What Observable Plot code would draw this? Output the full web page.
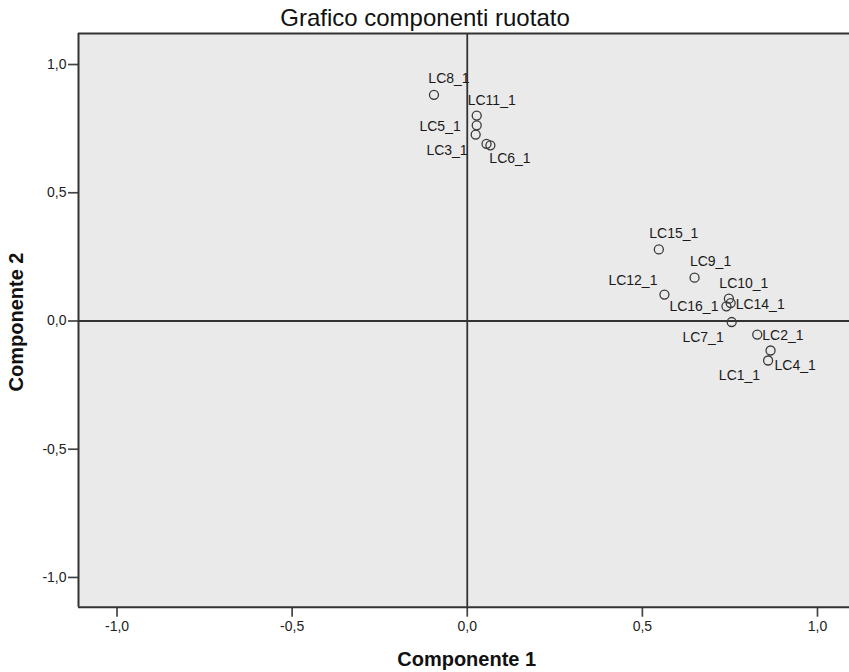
<!DOCTYPE html>
<html>
<head>
<meta charset="utf-8">
<script src="https://cdn.jsdelivr.net/npm/d3@7"></script>
<script src="https://cdn.jsdelivr.net/npm/@observablehq/plot@0.6"></script>
<style>
  html, body { margin: 0; padding: 0; background: #ffffff; }
  #chart svg { display: block; }
  #chart svg g[aria-label*="axis"] path,
  #chart svg g[aria-label*="axis"] line { stroke-width: 1.7px; stroke: #444; }
</style>
</head>
<body>
<div id="chart"></div>
<script>
// ---- data ----
const names = ["LC1_1","LC2_1","LC3_1","LC4_1","LC5_1","LC6_1","LC7_1","LC8_1",
               "LC9_1","LC10_1","LC11_1","LC12_1","LC13_1","LC14_1","LC15_1","LC16_1"];
const componente1 = [0.859, 0.828, 0.024, 0.866, 0.027, 0.066, 0.755, -0.095,
                     0.649, 0.747, 0.027, 0.563, 0.055, 0.752, 0.547, 0.740];
const componente2 = [-0.154, -0.053, 0.727, -0.115, 0.763, 0.685, -0.004, 0.882,
                     0.169, 0.087, 0.801, 0.103, 0.691, 0.070, 0.279, 0.057];
const shownLabels = ["LC1_1","LC2_1","LC3_1","LC4_1","LC5_1","LC6_1","LC7_1","LC8_1",
                     "LC9_1","LC10_1","LC11_1","LC12_1","LC14_1","LC15_1","LC16_1"];
const tickValues = [-1, -0.5, 0, 0.5, 1];
const titleText = "Grafico componenti ruotato";
const xLabel = "Componente 1";
const yLabel = "Componente 2";

// ---- label placement (style) ----
const placement = {
  "LC8_1":  ["middle", 15, -16],
  "LC11_1": ["start", -9, -15],
  "LC5_1":  ["end", -16, 1],
  "LC3_1":  ["end", -8, 16],
  "LC6_1":  ["start", -1, 13],
  "LC15_1": ["middle", 15, -16],
  "LC9_1":  ["middle", 16, -16],
  "LC12_1": ["end", -7, -14],
  "LC10_1": ["middle", 15, -15],
  "LC14_1": ["start", 5, 1],
  "LC16_1": ["end", -8, 0],
  "LC7_1":  ["end", -8, 15],
  "LC2_1":  ["start", 5, 1],
  "LC4_1":  ["start", 4, 15],
  "LC1_1":  ["end", -8, 15]
};

const data = names.map((n, i) => ({name: n, c1: componente1[i], c2: componente2[i]}));

const W = 849, H = 672;
const xDomain = [-1.11, 1.0914];
const yDomain = [-1.116, 1.121];
const fmt = d => d3.format(".1f")(d).replace(".", ",").replace("−", "-");
const FONT = "'Liberation Sans', Arial, Helvetica, sans-serif";
const ink = "#333333";

const labelMarks = shownLabels.map(n => {
  const [anchor, dx, dy] = placement[n];
  return Plot.text(data.filter(d => d.name === n), {
    x: "c1", y: "c2", text: "name",
    textAnchor: anchor, dx, dy,
    fontSize: 14, fill: "#1a1a1a"
  });
});

const chart = Plot.plot({
  width: W,
  height: H,
  marginTop: 33,
  marginBottom: 65.3,
  marginLeft: 78,
  marginRight: 0,
  style: {fontFamily: FONT, fontSize: "14px", color: "#222", background: "#ffffff"},
  x: {domain: xDomain, ticks: tickValues, tickFormat: fmt, tickSize: 10, tickPadding: 4, label: null},
  y: {domain: yDomain, ticks: tickValues, tickFormat: fmt, tickSize: 10, tickPadding: 2, label: null},
  marks: [
    Plot.frame({fill: "#EAEAEA", stroke: "none"}),
    Plot.ruleX([0], {stroke: ink, strokeWidth: 1.8}),
    Plot.ruleY([0], {stroke: ink, strokeWidth: 1.8}),
    Plot.ruleY([yDomain[1]], {stroke: ink, strokeWidth: 2}),
    Plot.ruleY([yDomain[0]], {stroke: ink, strokeWidth: 2}),
    Plot.ruleX([xDomain[0]], {stroke: ink, strokeWidth: 2}),
    Plot.dot(data, {x: "c1", y: "c2", r: 4.5, stroke: "#3a3a3a", strokeWidth: 1.3, fill: "none"}),
    ...labelMarks
  ]
});

document.getElementById("chart").appendChild(chart);

const svg = d3.select(chart);
svg.append("text")
  .attr("x", 425).attr("y", 26)
  .attr("text-anchor", "middle")
  .attr("font-family", FONT)
  .attr("font-size", 24)
  .attr("fill", "#111")
  .text(titleText);
svg.append("text")
  .attr("x", 466.7).attr("y", 666)
  .attr("text-anchor", "middle")
  .attr("font-family", FONT)
  .attr("font-size", 20)
  .attr("font-weight", "bold")
  .attr("fill", "#111")
  .text(xLabel);
svg.append("text")
  .attr("transform", "translate(23,322) rotate(-90)")
  .attr("text-anchor", "middle")
  .attr("font-family", FONT)
  .attr("font-size", 20)
  .attr("font-weight", "bold")
  .attr("fill", "#111")
  .text(yLabel);
</script>
</body>
</html>
